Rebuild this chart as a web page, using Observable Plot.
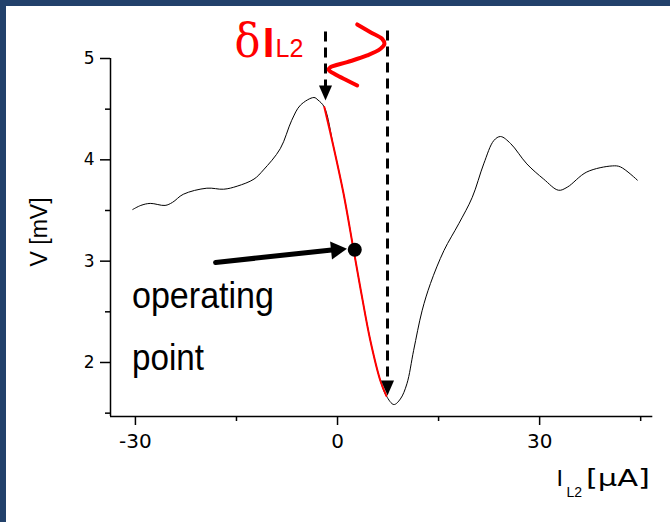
<!DOCTYPE html>
<html>
<head>
<meta charset="utf-8">
<script src="https://cdn.jsdelivr.net/npm/d3@7"></script>
<script src="https://cdn.jsdelivr.net/npm/@observablehq/plot@0.6"></script>
<style>
html, body { margin: 0; padding: 0; background: #fff; }
#frame { position: absolute; left: 0; top: 0; width: 664px; height: 516px;
  border-left: 6px solid #22416b; border-top: 6px solid #22416b; background: #fff; }
</style>
</head>
<body>
<div id="frame"></div>
<script>
// Measured curve: current I_L2 (µA) and voltage V (mV)
const currentI = [-30.4, -29.2, -27.8, -25.6, -24.5, -22.9, -19.4, -16.9, -14.9, -12.4, -11.0, -8.5, -6.8, -5.5, -3.5, -2.9,
  -1.96, -0.58, 0.9, 2.4, 3.64, 4.87, 6.36, 7.25,
  8.36, 9.33, 10.3, 11.3, 12.55, 13.8, 15.8, 18.0, 20.0, 21.7, 23.2, 24.2, 25.7, 28.1, 30.6, 32.8, 34.1, 37.0, 40.8, 42.0, 44.5];
const voltage = [3.51, 3.55, 3.57, 3.55, 3.58, 3.66, 3.72, 3.71, 3.74, 3.81, 3.90, 4.11, 4.39, 4.54, 4.615, 4.59,
  4.52, 4.125, 3.665, 3.106, 2.645, 2.217, 1.82, 1.67,
  1.585, 1.64, 1.79, 2.12, 2.51, 2.78, 3.105, 3.37, 3.63, 3.96, 4.19, 4.23, 4.16, 3.96, 3.81, 3.70, 3.73, 3.88, 3.94, 3.93, 3.80];
// Highlighted (red) slope range
const slopeRange = [-1.96, 7.25];

// Axis ticks
const xMajorTicks = [-30, 0, 30];
const xMinorTicks = [-15, 15, 45];
const yMajorTicks = [2, 3, 4, 5];
const yMinorTicks = [1.5, 2.5, 3.5, 4.5];
const xDomain = [-33.7, 47.2];
const yDomain = [1.467, 5];

// Operating point
const opI = [2.56];
const opV = [3.112];

// Pointer arrow from the label to the operating point (tail, shaft end, tip)
const pointerI = [-18.1, -0.88, 1.4];
const pointerV = [2.987, 3.110, 3.122];

// Dashed arrows marking the modulation range δI_L2
const dashI = [-1.785, 7.42];
const dashTopV = [5.266, 5.276];
const dashBaseV = [4.724, 1.815];
const dashTipV = [4.586, 1.674];

// Modulation waveform sketch
const squiggleI = [2.92, 4.89, 6.63, 6.97, 6.38, 4.40, 1.44, -1.04, -1.30, -0.30, 1.44, 2.92];
const squiggleV = [5.336, 5.260, 5.194, 5.145, 5.096, 5.030, 4.964, 4.914, 4.888, 4.842, 4.783, 4.734];

// Text labels
const labelTexts = ["operating", "point"];
const labelI = [-30.51, -30.51];
const labelV = [2.540, 1.921];

const curve = currentI.map((x, i) => ({x, v: voltage[i]}));
const slope = curve.filter(d => d.x >= slopeRange[0] && d.x <= slopeRange[1]);
const squiggle = squiggleI.map((x, i) => ({x, v: squiggleV[i]}));
const dashes = dashI.map((x, i) => ({x, y1: dashTopV[i], y2: dashBaseV[i], tip: dashTipV[i]}));
const labels = labelTexts.map((t, i) => ({t, x: labelI[i], v: labelV[i]}));

const headDown = {draw(ctx) { ctx.moveTo(0, 0); ctx.lineTo(-6.5, -15); ctx.lineTo(6.5, -15); ctx.closePath(); }};
const headPointer = {draw(ctx) { ctx.moveTo(0, 0); ctx.lineTo(-9, -16); ctx.lineTo(9, -16); ctx.closePath(); }};

const red = "#ff0000";
const sans = "Liberation Sans, Arial, sans-serif";
const tickFont = "DejaVu Sans, sans-serif";

const chart = Plot.plot({
  width: 664, height: 516,
  marginLeft: 104, marginRight: 15, marginTop: 52, marginBottom: 106,
  x: {domain: xDomain},
  y: {domain: yDomain},
  style: {fontFamily: sans, background: "white", color: "black", overflow: "visible"},
  marks: [
    Plot.axisX({ticks: xMajorTicks, tickSize: 9, tickPadding: 8, fontSize: 20, fontFamily: tickFont,
      tickFormat: d => String(d), label: null, strokeWidth: 1.5}),
    Plot.axisX({ticks: xMinorTicks, tickSize: 5, text: null, label: null, strokeWidth: 1.5}),
    Plot.axisY({ticks: yMajorTicks, tickSize: 10, tickPadding: 6, fontSize: 17, fontFamily: tickFont,
      tickFormat: d => String(d), label: null, strokeWidth: 1.5}),
    Plot.axisY({ticks: yMinorTicks, tickSize: 5, text: null, label: null, strokeWidth: 1.5}),
    Plot.ruleX([xDomain[0]], {y1: yDomain[0], y2: yDomain[1], strokeWidth: 1.5}),
    Plot.ruleY([yDomain[0]], {x1: xDomain[0], x2: 46.8, strokeWidth: 1.5}),

    Plot.line(curve, {x: "x", y: "v", stroke: "black", strokeWidth: 1, curve: "catmull-rom"}),
    Plot.line(slope, {x: "x", y: "v", stroke: red, strokeWidth: 2, curve: "catmull-rom"}),

    // dashed arrows
    Plot.link(dashes, {x1: "x", x2: "x", y1: "y1", y2: "y2", stroke: "black", strokeWidth: 3, strokeDasharray: "10,6"}),
    Plot.dot(dashes, {x: "x", y: "tip", symbol: headDown, r: 5, fill: "black", stroke: "none"}),

    // modulation sketch
    Plot.line(squiggle, {x: "x", y: "v", stroke: red, strokeWidth: 4, curve: "catmull-rom", strokeLinecap: "round"}),

    // pointer arrow + operating point
    Plot.line(pointerI.slice(0, 2).map((x, i) => ({x, v: pointerV[i]})), {x: "x", y: "v", stroke: "black", strokeWidth: 5}),
    Plot.dot([{x: pointerI[2], v: pointerV[2]}], {x: "x", y: "v", symbol: headPointer, r: 5, fill: "black", stroke: "none", rotate: -96}),
    Plot.dot(opI.map((x, i) => ({x, v: opV[i]})), {x: "x", y: "v", r: 7, fill: "black", stroke: "none"}),

    Plot.text(labels, {x: "x", y: "v", text: "t", textAnchor: "start", lineAnchor: "bottom", fontSize: 36, fill: "black"}),

    // δI_L2
    Plot.text(["δ"], {x: -15.3, y: 5.010, textAnchor: "start", lineAnchor: "bottom", fontSize: 46, fill: red, fontFamily: "DejaVu Serif, serif"}),
    Plot.text(["I"], {x: -11.09, y: 5.010, textAnchor: "start", lineAnchor: "bottom", fontSize: 42, fontWeight: "bold", fill: red}),
    Plot.text(["L2"], {x: -9.21, y: 5.013, textAnchor: "start", lineAnchor: "bottom", fontSize: 25, fill: red}),

    // axis labels
    Plot.text(["V [mV]"], {x: -43.1, y: 3.288, rotate: -90, textAnchor: "middle", lineAnchor: "bottom", fontSize: 23, fill: "black"}),
    Plot.text(["I"], {x: 32.5, y: 0.786, textAnchor: "start", lineAnchor: "bottom", fontSize: 22, fill: "black", fontFamily: tickFont}),
    Plot.text(["L2"], {x: 33.99, y: 0.668, textAnchor: "start", lineAnchor: "bottom", fontSize: 14, fill: "black"}),
    Plot.text(["[µA]"], {x: 36.88, y: 0.786, textAnchor: "start", lineAnchor: "bottom", fontSize: 23, fill: "black", fontFamily: tickFont})
  ]
});

const fits = {"operating": [142, "spacingAndGlyphs"], "point": [72, "spacingAndGlyphs"], "[µA]": [64, "spacingAndGlyphs"], "δ": [26, "spacingAndGlyphs"]};
d3.select(chart).selectAll("text").each(function() {
  const f = fits[this.textContent];
  if (f) { this.setAttribute("textLength", f[0]); this.setAttribute("lengthAdjust", f[1]); }
});

document.getElementById("frame").appendChild(chart);
</script>
</body>
</html>
